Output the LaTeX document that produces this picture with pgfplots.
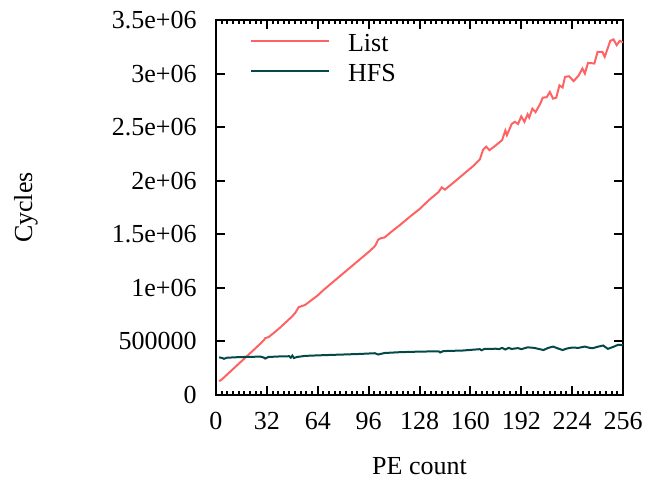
\documentclass[border=0pt]{standalone}
\usepackage{pgfplots}
\pgfplotsset{compat=1.18}
\usepackage{pgfplotstable}
\usepackage{fontspec}
\setmainfont{Liberation Serif}

\definecolor{listred}{RGB}{255,98,98}
\definecolor{hfsteal}{RGB}{4,72,72}

% PE count vs. cycles, List allocator
\pgfplotstableread{
pe cycles
2 128000
4 150000
8 205000
12 260000
16 315000
20 370000
24 425000
28 480000
30 510000
31 531000
33 540000
36 575000
40 625000
44 680000
48 735000
50 770000
52 820000
54 830000
56 840000
60 885000
64 930000
68 985000
72 1035000
76 1085000
80 1135000
84 1185000
88 1235000
92 1285000
96 1335000
100 1390000
102 1450000
104 1465000
106 1470000
110 1520000
116 1590000
122 1665000
128 1735000
134 1820000
138 1870000
140 1895000
142 1938000
144 1917000
150 1990000
156 2065000
162 2140000
166 2200000
168 2290000
170 2318000
172 2285000
176 2330000
180 2380000
182 2469000
183 2425000
186 2530000
188 2550000
190 2530000
192 2600000
194 2550000
196 2620000
197 2590000
199 2672000
201 2640000
204 2720000
205.5 2775000
208 2780000
210 2828000
212 2766000
214 2775000
216 2890000
218 2870000
219.5 2969000
222 2975000
225 2930000
228 2980000
230.5 3047000
232 3000000
234 3100000
238 3094000
240 3203000
243 3203000
244.5 3156000
248 3306000
250 3319000
252 3266000
254 3306000
256 3290000
}\listdata

% PE count vs. cycles, HFS allocator
\pgfplotstableread{
pe cycles
2 352000
4 345000
5 338000
7 348000
12 352000
20 356000
28 358000
30 350000
31 340000
33 355000
40 360000
46 362000
47 348000
48 368000
49 345000
51 355000
56 365000
64 370000
72 374000
80 378000
90 383000
100 390000
102 378000
104 385000
106 392000
116 400000
128 405000
140 408000
141 397000
143 410000
155 415000
166 428000
167 418000
169 430000
176 432000
178 428000
180 440000
182 425000
184 440000
186 430000
190 438000
192 428000
196 445000
200 440000
203 430000
206 420000
209 440000
212 452000
215 435000
218 420000
221 435000
224 443000
228 440000
232 452000
235 440000
237 437000
240 450000
243.5 462000
246.5 431000
250 450000
253 469000
256 465000
}\hfsdata

\begin{document}
\fontsize{13}{15}\selectfont
\begin{tikzpicture}
\begin{axis}[
   name=ax,
   at={(0,0)}, anchor=south west,
   scale only axis,
   width=203.5pt, height=187.5pt,
   xmin=0, xmax=256,
   ymin=0, ymax=3500000,
   xtick={0,32,...,256},
   ytick={0,500000,1000000,1500000,2000000,2500000,3000000,3500000},
   yticklabels={0,500000,1e+06,1.5e+06,2e+06,2.5e+06,3e+06,3.5e+06},
   scaled y ticks=false,
   minor x tick num=8,
   xtick pos=both, ytick pos=both,
   xticklabel pos=left, yticklabel pos=left,
   tick align=inside,
   major tick length=4.5pt, minor tick length=2.2pt,
   every tick/.style={black, line width=1pt},
   axis line style={line width=1.2pt},
   /pgf/number format/assume math mode=true,
   xticklabel style={inner sep=0pt, anchor=north, yshift=-8.5pt},
   yticklabel style={inner sep=0pt, anchor=east, xshift=-9.5pt},
   every axis x label/.style={at={(axis description cs:0.5,0)}, anchor=base, yshift=-39.5pt},
   every axis y label/.style={at={(axis description cs:-0.4668,0.5)}, anchor=center, rotate=90},
   xlabel={PE count},
   ylabel={Cycles},
   legend style={draw=none, fill=none, at={(axis description cs:0.068,0.977)}, anchor=north west,
      nodes={inner sep=0pt, text height=9pt, text depth=6pt}, column sep=9pt},
   legend cell align=left,
   legend image code/.code={\draw[#1] (0pt,3.5pt) -- (39pt,3.5pt);},
]
\addplot [listred, line width=1pt] table [x=pe, y=cycles] {\listdata};
\addlegendentry{List}
\addplot [hfsteal, line width=1pt] table [x=pe, y=cycles] {\hfsdata};
\addlegendentry{HFS}
\end{axis}
\pgfresetboundingbox
\path[use as bounding box] (-108pt,-41.5pt) rectangle (223pt,197.5pt);
\end{tikzpicture}
\end{document}
